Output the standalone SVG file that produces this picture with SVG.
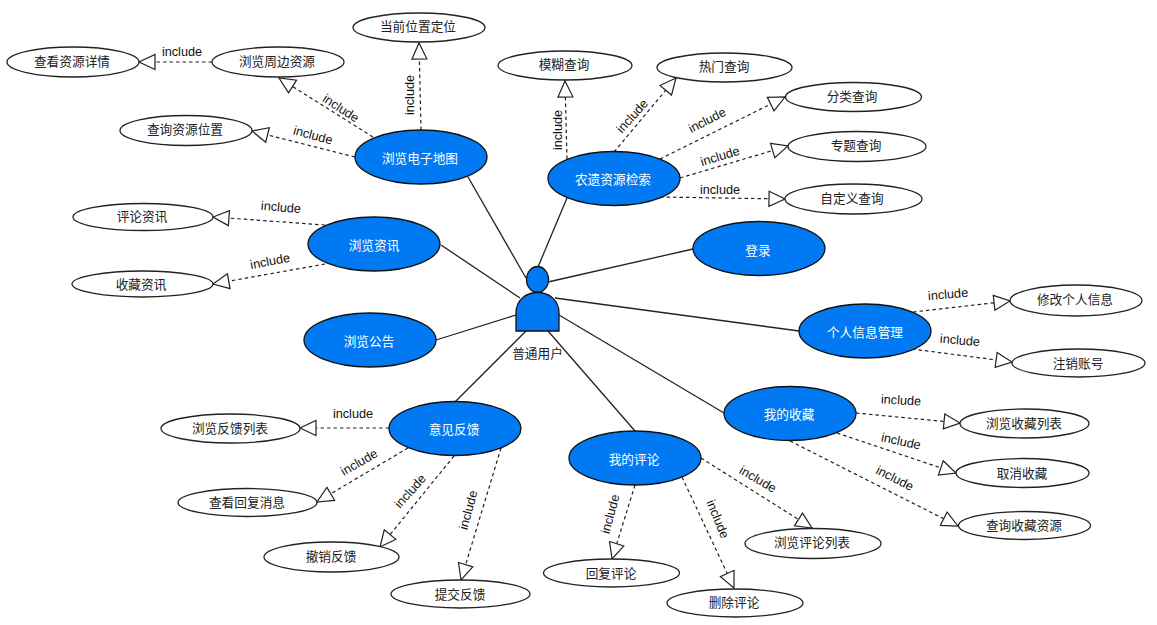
<svg xmlns="http://www.w3.org/2000/svg" width="1157" height="625" viewBox="0 0 1157 625">
<style>
text{font-family:"Noto Sans CJK SC","Liberation Sans",sans-serif;font-size:12.7px;text-anchor:middle;fill:#222}
.uc ellipse{fill:#0079f2;stroke:#111;stroke-width:1.3}
.uc text{fill:#fff}
.sub ellipse{fill:#fff;stroke:#222;stroke-width:1.3}
.solid line{stroke:#222;stroke-width:1.3}
.dash line{stroke:#222;stroke-width:1.2;stroke-dasharray:3.5 3;marker-end:url(#tri)}
.lab text{font-family:"Liberation Sans",Arial,sans-serif;font-size:12.7px;fill:#111}
</style>
<defs>
<marker id="tri" markerUnits="userSpaceOnUse" markerWidth="20" markerHeight="20" refX="17" refY="9" orient="auto" overflow="visible">
<path d="M1 1.500 L17 9 L1 16.500 Z" fill="#fff" stroke="#222" stroke-width="1.2"/>
</marker>
</defs>
<rect width="1157" height="625" fill="#fff"/>
<g id="connectors">
<g class="solid">
<line x1="468" y1="177" x2="526" y2="278"/>
<line x1="567" y1="198" x2="538" y2="267"/>
<line x1="441" y1="245" x2="520" y2="298"/>
<line x1="548" y1="282" x2="693" y2="249"/>
<line x1="555" y1="298" x2="799" y2="331"/>
<line x1="436" y1="340" x2="516" y2="315"/>
<line x1="455" y1="402" x2="526" y2="331"/>
<line x1="635" y1="431" x2="548" y2="331"/>
<line x1="724" y1="413" x2="559" y2="315"/>
</g>
<g class="dash">
<line x1="212" y1="62" x2="139" y2="62"/>
<line x1="421" y1="130" x2="419" y2="43"/>
<line x1="373" y1="137" x2="279" y2="78"/>
<line x1="355" y1="157" x2="252" y2="131"/>
<line x1="325" y1="225" x2="213" y2="217"/>
<line x1="325" y1="264" x2="213" y2="284"/>
<line x1="567" y1="159" x2="565" y2="81"/>
<line x1="614" y1="152" x2="676" y2="78"/>
<line x1="660" y1="159" x2="785" y2="97"/>
<line x1="680" y1="178" x2="788" y2="146"/>
<line x1="660" y1="197" x2="785" y2="199"/>
<line x1="913" y1="312" x2="1010" y2="301"/>
<line x1="912" y1="349" x2="1012" y2="362"/>
<line x1="856" y1="413" x2="960" y2="423"/>
<line x1="837" y1="433" x2="956" y2="473"/>
<line x1="790" y1="441" x2="958" y2="526"/>
<line x1="701" y1="458" x2="812" y2="528"/>
<line x1="635" y1="485" x2="612" y2="559"/>
<line x1="682" y1="477" x2="734" y2="588"/>
<line x1="389" y1="428" x2="300" y2="428"/>
<line x1="408" y1="448" x2="317" y2="502"/>
<line x1="454" y1="456" x2="380" y2="547"/>
<line x1="501" y1="448" x2="461" y2="580"/>
</g>
<g class="lab">
<text transform="translate(182,51)" y="4.5">include</text>
<text transform="translate(341,108) rotate(33)" y="4.5">include</text>
<text transform="translate(409,95) rotate(-90)" y="4.5">include</text>
<text transform="translate(313,135) rotate(15)" y="4.5">include</text>
<text transform="translate(281,207) rotate(5)" y="4.5">include</text>
<text transform="translate(270,261) rotate(-11)" y="4.5">include</text>
<text transform="translate(557,130) rotate(-90)" y="4.5">include</text>
<text transform="translate(632,116) rotate(-48)" y="4.5">include</text>
<text transform="translate(707,120) rotate(-27)" y="4.5">include</text>
<text transform="translate(720,156) rotate(-17)" y="4.5">include</text>
<text transform="translate(720,189)" y="4.5">include</text>
<text transform="translate(948,294) rotate(-5)" y="4.5">include</text>
<text transform="translate(960,340) rotate(5)" y="4.5">include</text>
<text transform="translate(901,400) rotate(3)" y="4.5">include</text>
<text transform="translate(901,441) rotate(12)" y="4.5">include</text>
<text transform="translate(895,478) rotate(27)" y="4.5">include</text>
<text transform="translate(758,479) rotate(30)" y="4.5">include</text>
<text transform="translate(610,514) rotate(-75)" y="4.5">include</text>
<text transform="translate(718,519) rotate(68)" y="4.5">include</text>
<text transform="translate(353,413)" y="4.5">include</text>
<text transform="translate(359,462) rotate(-30)" y="4.5">include</text>
<text transform="translate(410,491) rotate(-48)" y="4.5">include</text>
<text transform="translate(468,510) rotate(-75)" y="4.5">include</text>
</g>
</g>
<g id="actor">
<ellipse cx="537.5" cy="279.5" rx="11" ry="13" fill="#0079f2" stroke="#111" stroke-width="1.3"/>
<path d="M516 331 V313 C516 300 526 292.500 537.500 292.500 C549 292.500 559 300 559 313 V331 Z" fill="#0079f2" stroke="#111" stroke-width="1.3"/>
<text x="537.500" y="358">普通用户</text>
</g>
<g id="map" class="uc"><ellipse cx="421" cy="157" rx="66" ry="27"/><text x="420" y="162.500">浏览电子地图</text></g>
<g id="search" class="uc"><ellipse cx="614" cy="178.500" rx="66" ry="27"/><text x="613" y="184">农遗资源检索</text></g>
<g id="news" class="uc"><ellipse cx="374" cy="244" rx="66" ry="27"/><text x="374" y="250">浏览资讯</text></g>
<g id="login" class="uc"><ellipse cx="759" cy="248.500" rx="66" ry="27"/><text x="758" y="254.500">登录</text></g>
<g id="profile" class="uc"><ellipse cx="865" cy="331" rx="66" ry="27"/><text x="865" y="336.500">个人信息管理</text></g>
<g id="notice" class="uc"><ellipse cx="370" cy="340" rx="66" ry="27"/><text x="369" y="345.500">浏览公告</text></g>
<g id="feedback" class="uc"><ellipse cx="455" cy="428.500" rx="66" ry="27"/><text x="454" y="434">意见反馈</text></g>
<g id="comments" class="uc"><ellipse cx="635" cy="458" rx="66" ry="27"/><text x="634" y="463.500">我的评论</text></g>
<g id="favorites" class="uc"><ellipse cx="790" cy="413.500" rx="66" ry="27"/><text x="789" y="419">我的收藏</text></g>
<g id="locate" class="sub"><ellipse cx="419" cy="27.500" rx="66" ry="14.500"/><text x="418" y="31">当前位置定位</text></g>
<g id="detail" class="sub"><ellipse cx="73" cy="62" rx="66" ry="15"/><text x="72" y="65.500">查看资源详情</text></g>
<g id="nearby" class="sub"><ellipse cx="278" cy="62" rx="66" ry="15"/><text x="277" y="65.500">浏览周边资源</text></g>
<g id="position" class="sub"><ellipse cx="186" cy="130.500" rx="66" ry="15"/><text x="185" y="134">查询资源位置</text></g>
<g id="newscomment" class="sub"><ellipse cx="143" cy="217" rx="70" ry="13.500"/><text x="142" y="221">评论资讯</text></g>
<g id="newsfav" class="sub"><ellipse cx="142.500" cy="284" rx="70.500" ry="13"/><text x="141" y="289">收藏资讯</text></g>
<g id="fuzzy" class="sub"><ellipse cx="565" cy="65.500" rx="67" ry="14.500"/><text x="564" y="69">模糊查询</text></g>
<g id="hot" class="sub"><ellipse cx="724.500" cy="67.500" rx="67.500" ry="14.500"/><text x="724" y="71">热门查询</text></g>
<g id="category" class="sub"><ellipse cx="853.500" cy="97" rx="68" ry="14.500"/><text x="852" y="101">分类查询</text></g>
<g id="topic" class="sub"><ellipse cx="857" cy="146.500" rx="69" ry="15"/><text x="856" y="150">专题查询</text></g>
<g id="custom" class="sub"><ellipse cx="853.500" cy="199" rx="68.500" ry="15"/><text x="852" y="202.500">自定义查询</text></g>
<g id="editinfo" class="sub"><ellipse cx="1076" cy="300.500" rx="66" ry="15.500"/><text x="1075" y="303.500">修改个人信息</text></g>
<g id="cancelacct" class="sub"><ellipse cx="1078.500" cy="363" rx="66.500" ry="14"/><text x="1078" y="368">注销账号</text></g>
<g id="favlist" class="sub"><ellipse cx="1024.500" cy="423.500" rx="64.500" ry="14.500"/><text x="1024" y="427.500">浏览收藏列表</text></g>
<g id="favcancel" class="sub"><ellipse cx="1022.500" cy="473" rx="66.500" ry="14.500"/><text x="1022" y="477.500">取消收藏</text></g>
<g id="favsearch" class="sub"><ellipse cx="1024.500" cy="525.500" rx="66" ry="14"/><text x="1024" y="530">查询收藏资源</text></g>
<g id="commentlist" class="sub"><ellipse cx="813" cy="543.500" rx="68" ry="15"/><text x="812" y="547">浏览评论列表</text></g>
<g id="reply" class="sub"><ellipse cx="611.500" cy="573" rx="68" ry="14"/><text x="611" y="577.500">回复评论</text></g>
<g id="delete" class="sub"><ellipse cx="735" cy="603" rx="68" ry="14"/><text x="734" y="607">删除评论</text></g>
<g id="fblist" class="sub"><ellipse cx="230.500" cy="428.500" rx="69.500" ry="14.500"/><text x="230" y="432.500">浏览反馈列表</text></g>
<g id="fbreply" class="sub"><ellipse cx="247.500" cy="502.500" rx="69.500" ry="14"/><text x="247" y="506.500">查看回复消息</text></g>
<g id="fbcancel" class="sub"><ellipse cx="331.500" cy="557" rx="67.500" ry="15"/><text x="331" y="561">撤销反馈</text></g>
<g id="fbsubmit" class="sub"><ellipse cx="460.500" cy="594" rx="69.500" ry="14"/><text x="460" y="598.500">提交反馈</text></g>
</svg>
